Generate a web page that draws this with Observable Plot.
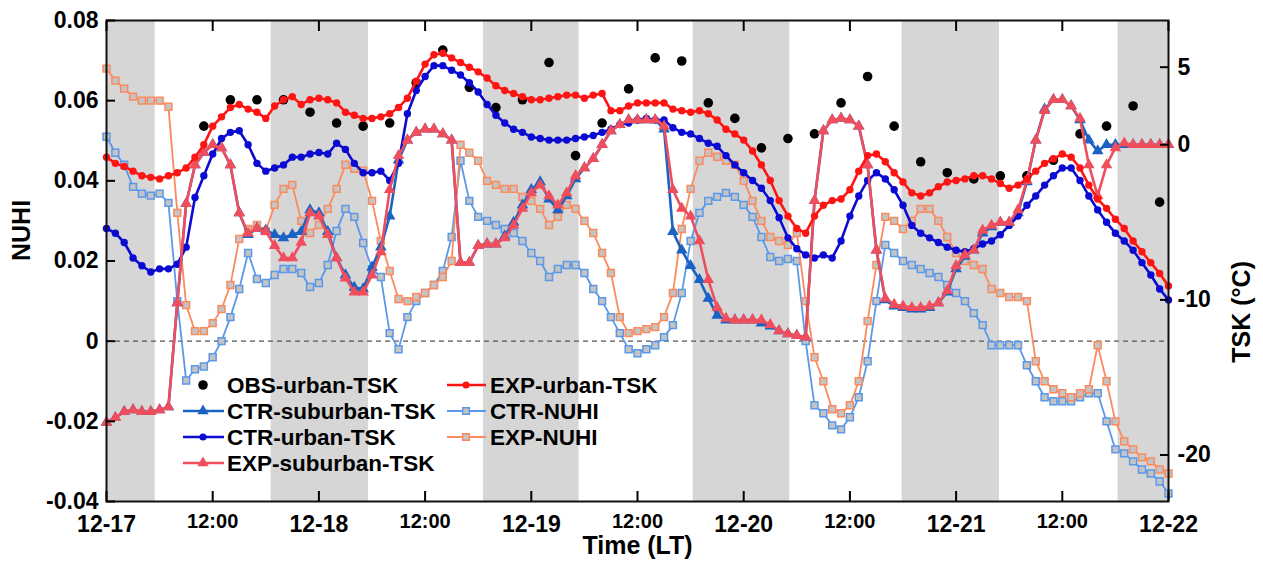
<!DOCTYPE html>
<html><head><meta charset="utf-8">
<script src="https://cdn.jsdelivr.net/npm/d3@7"></script>
<script src="https://cdn.jsdelivr.net/npm/@observablehq/plot@0.6"></script>
<style>
body{margin:0;background:#fff;}
#wrap{position:relative;width:1263px;height:568px;font-family:"Liberation Sans",Arial,sans-serif;}
#wrap svg{display:block;}
#legend{position:absolute;left:0;top:0;pointer-events:none;}
</style></head><body><div id="wrap"></div>
<script>
// ---------- data (hourly, 12-17 00:00 LT = hour 0) ----------
const hours = d3.range(0, 121);
const nightStart = [0, 18.6, 42.6, 66.3, 89.9, 114.3];
const nightEnd   = [5.5, 29.6, 53.4, 77.2, 100.9, 120];

const dayTicks = [0, 24, 48, 72, 96, 120];
const dayLabels = ["12-17", "12-18", "12-19", "12-20", "12-21", "12-22"];
const noonTicks = [12, 36, 60, 84, 108];
const noonLabel = "12:00";

const yTicks = [-0.04, -0.02, 0, 0.02, 0.04, 0.06, 0.08];
const yTickLabels = ["-0.04", "-0.02", "0", "0.02", "0.04", "0.06", "0.08"];
const tskTicks = [5, 0, -10, -20];
const tskTickLabels = ["5", "0", "-10", "-20"];

// TSK (°C)
const obsHours = [11,14,17,20,23,26,29,32,35,38,41,44,47,50,53,56,59,62,65,68,71,74,77,80,83,86,89,92,95,98,101,104,107,110,113,116,119];
const obsUrbanTSK = [1.2,2.9,2.9,2.9,2.1,1.4,1.2,1.4,4.0,6.1,3.7,2.4,2.9,5.3,-0.7,1.4,3.6,5.6,5.4,2.7,1.7,-0.2,0.4,0.7,2.7,4.4,1.2,-1.1,-1.8,-2.2,-2.0,-2.0,-1.0,0.7,1.2,2.5,-3.7];

const ctrSuburbanTSK = [
 -17.9,-17.6,-17.2,-17.1,-17.2,-17.2,-17.1,-16.9,-10.2,-3.8,
 -1.3,-0.5,0.0,-0.2,-1.3,-4.4,-5.8,-5.4,-5.5,-5.8,
 -6.0,-5.8,-5.6,-4.2,-4.4,-5.6,-7.3,-8.4,-9.2,-9.3,
 -7.9,-6.6,-4.6,-1.0,0.3,0.8,1.0,1.0,0.7,0.3,
 -7.6,-7.6,-6.5,-6.4,-6.4,-5.9,-5.0,-3.9,-2.9,-2.4,
 -3.5,-4.2,-3.3,-2.2,-1.5,-0.9,0.0,0.9,1.3,1.6,
 1.6,1.6,1.6,1.0,-5.6,-6.8,-7.8,-8.7,-9.9,-11.0,
 -11.3,-11.3,-11.3,-11.3,-11.5,-11.7,-12.0,-12.2,-12.3,-12.4,
 -3.6,0.9,1.6,1.7,1.6,1.2,-1.3,-6.8,-10.0,-10.4,
 -10.5,-10.6,-10.6,-10.5,-10.2,-9.5,-8.0,-7.2,-6.8,-5.7,
 -5.3,-5.0,-5.0,-4.4,-2.4,0.3,2.3,2.9,2.9,2.5,
 1.6,0.3,-0.4,0.0,0.0,0.0,0.0,0.0,0.0,0.0,0.0];

const expSuburbanTSK = [
 -17.9,-17.6,-17.2,-17.1,-17.2,-17.2,-17.1,-16.9,-10.2,-3.8,
 -1.3,-0.5,0.0,-0.2,-1.3,-4.4,-5.7,-5.4,-5.6,-6.5,
 -7.3,-7.3,-6.3,-4.4,-4.6,-5.8,-7.3,-8.6,-9.5,-9.5,
 -8.4,-6.9,-2.9,-0.7,0.3,0.8,1.0,1.0,0.7,0.3,
 -7.6,-7.6,-6.5,-6.4,-6.4,-6.0,-5.2,-4.1,-3.1,-2.6,
 -3.3,-3.9,-3.1,-2.0,-1.5,-0.9,0.0,0.9,1.3,1.6,
 1.6,1.6,1.6,1.2,-2.9,-4.1,-4.6,-6.2,-8.7,-10.5,
 -11.2,-11.3,-11.3,-11.3,-11.3,-11.6,-12.0,-12.2,-12.3,-12.4,
 -3.6,0.9,1.6,1.7,1.6,1.2,-1.3,-6.8,-9.9,-10.3,
 -10.4,-10.5,-10.5,-10.4,-10.2,-9.4,-7.8,-7.1,-6.8,-5.5,
 -5.2,-5.0,-5.0,-4.2,-2.3,0.3,2.2,2.9,2.9,2.5,
 1.7,-1.3,-3.3,-1.3,-0.2,0.1,0.0,0.0,0.0,0.0,0.0];

const ctrUrbanTSK = [
 -5.4,-5.7,-6.3,-7.3,-7.8,-8.2,-8.0,-8.0,-7.7,-6.6,
 -3.4,-2.0,-0.6,0.4,0.8,0.9,0.0,-1.2,-1.7,-1.5,
 -1.3,-0.8,-0.8,-0.6,-0.5,-0.6,0.1,-0.3,-1.2,-1.8,
 -1.8,-1.7,-2.3,-1.2,2.0,3.5,4.4,5.1,5.1,4.8,
 4.5,4.0,3.4,2.6,1.9,1.4,1.0,0.8,0.5,0.4,
 0.3,0.3,0.3,0.4,0.5,0.6,0.8,1.0,1.3,1.4,
 1.6,1.7,1.6,1.6,1.1,0.8,0.7,0.4,0.1,-0.1,
 -0.7,-1.3,-1.8,-2.3,-2.8,-3.6,-4.7,-6.0,-6.7,-7.1,
 -7.3,-7.1,-7.3,-6.2,-4.6,-3.3,-2.3,-1.8,-2.2,-2.9,
 -3.9,-5.2,-5.7,-6.0,-6.3,-6.6,-6.8,-6.9,-6.7,-6.4,
 -6.2,-5.8,-5.2,-4.6,-3.9,-3.3,-2.6,-2.0,-1.5,-1.5,
 -2.3,-3.3,-4.2,-5.0,-5.7,-6.2,-6.8,-7.6,-8.4,-9.3,-10.0];

const expUrbanTSK = [
 -0.8,-1.2,-1.4,-1.7,-2.0,-2.1,-2.2,-2.0,-1.8,-1.5,
 -0.8,0.0,1.2,1.8,2.4,2.6,2.3,2.1,1.7,2.5,
 2.9,3.1,2.6,2.9,3.0,2.9,2.7,2.1,1.9,1.7,
 1.7,1.8,2.0,2.4,3.0,4.1,5.2,5.8,5.9,5.6,
 5.3,5.0,4.7,4.3,3.8,3.5,3.3,3.1,2.9,2.9,
 3.0,3.1,3.2,3.2,3.0,3.2,3.3,2.2,2.2,2.5,
 2.7,2.7,2.7,2.7,2.3,2.2,2.1,2.2,2.0,1.6,
 1.0,0.7,0.3,-0.4,-1.3,-2.3,-3.6,-4.6,-5.4,-5.7,
 -4.6,-3.9,-3.6,-3.5,-2.9,-1.7,-0.7,-0.6,-1.1,-1.8,
 -2.4,-3.1,-3.3,-3.1,-2.7,-2.4,-2.3,-2.2,-2.0,-2.0,
 -2.2,-2.5,-2.8,-2.6,-2.2,-1.7,-1.2,-0.9,-0.6,-0.8,
 -1.5,-2.6,-3.5,-4.1,-4.8,-5.4,-6.2,-6.9,-7.6,-8.3,-9.1];

// NUHI
const ctrNUHI = [
 0.051,0.047,0.044,0.0385,0.0368,0.0363,0.0368,0.0345,0.010,-0.0098,
 -0.007,-0.0063,-0.004,0.000,0.006,0.013,0.022,0.0155,0.0145,0.0165,
 0.018,0.018,0.017,0.0135,0.0145,0.019,0.0275,0.033,0.031,0.0245,
 0.018,0.016,0.002,-0.002,0.006,0.010,0.012,0.014,0.0175,0.026,
 0.045,0.035,0.031,0.030,0.029,0.028,0.027,0.025,0.022,0.020,
 0.016,0.018,0.019,0.019,0.017,0.013,0.010,0.006,0.002,-0.002,
 -0.003,-0.002,-0.001,0.001,0.004,0.012,0.025,0.032,0.035,0.036,
 0.037,0.036,0.034,0.031,0.026,0.021,0.020,0.0205,0.020,0.000,
 -0.016,-0.018,-0.021,-0.022,-0.019,-0.014,-0.005,0.010,0.024,0.022,
 0.020,0.019,0.018,0.017,0.016,0.014,0.012,0.010,0.007,0.004,
 -0.001,-0.001,-0.001,-0.001,-0.006,-0.010,-0.014,-0.015,-0.015,-0.015,
 -0.014,-0.013,-0.013,-0.020,-0.027,-0.028,-0.030,-0.032,-0.033,-0.035,-0.038];

const expNUHI = [
 0.068,0.065,0.063,0.061,0.060,0.060,0.060,0.0585,0.032,0.009,
 0.0025,0.0025,0.0045,0.008,0.014,0.0255,0.028,0.029,0.0275,0.034,
 0.038,0.039,0.030,0.027,0.029,0.033,0.038,0.044,0.043,0.0425,
 0.035,0.025,0.0175,0.0105,0.010,0.011,0.012,0.014,0.016,0.020,
 0.049,0.047,0.045,0.040,0.039,0.038,0.038,0.036,0.035,0.033,
 0.029,0.031,0.034,0.033,0.030,0.027,0.022,0.017,0.006,0.002,
 0.0025,0.003,0.0035,0.006,0.012,0.028,0.038,0.045,0.047,0.046,
 0.045,0.044,0.040,0.035,0.030,0.026,0.025,0.024,0.027,0.010,
 -0.004,-0.010,-0.017,-0.018,-0.016,-0.010,0.005,0.019,0.031,0.030,
 0.028,0.030,0.033,0.033,0.030,0.026,0.022,0.020,0.019,0.018,
 0.013,0.012,0.011,0.011,0.010,-0.005,-0.010,-0.012,-0.013,-0.014,
 -0.013,-0.012,-0.001,-0.010,-0.020,-0.025,-0.027,-0.029,-0.030,-0.032,-0.033];

// ---------- secondary axis: TSK (°C) drawn on the NUHI scale ----------
const tskZero = 0.0490, tskPerDeg = 0.00387;
const tskToNuhi = t => tskZero + tskPerDeg * t;

const C = {
  ctrSub: "#1a62c4", ctrUrb: "#0a0ad2", expSub: "#f04e5c", expUrb: "#ff1414",
  ctrN: "#5b98e8", expN: "#fb8a5e", sqFill: "#c4c4c4", night: "#d6d6d6"
};

const series = [
  {name: "CTR-NUHI", vals: ctrNUHI, tsk: false, color: C.ctrN, symbol: "square", r: 3.9, sw: 1.8},
  {name: "EXP-NUHI", vals: expNUHI, tsk: false, color: C.expN, symbol: "square", r: 3.9, sw: 1.8},
  {name: "CTR-suburban-TSK", vals: ctrSuburbanTSK, tsk: true, color: C.ctrSub, symbol: "triangle", r: 4.3, sw: 2.6},
  {name: "CTR-urban-TSK", vals: ctrUrbanTSK, tsk: true, color: C.ctrUrb, symbol: "circle", r: 3.7, sw: 2.6},
  {name: "EXP-suburban-TSK", vals: expSuburbanTSK, tsk: true, color: C.expSub, symbol: "triangle", r: 4.3, sw: 2.6},
  {name: "EXP-urban-TSK", vals: expUrbanTSK, tsk: true, color: C.expUrb, symbol: "circle", r: 3.7, sw: 2.6}
];

const nights = nightStart.map((s, i) => ({s, e: nightEnd[i]}));
const obs = obsHours.map((h, i) => ({h, v: tskToNuhi(obsUrbanTSK[i])}));

const seriesMarks = [];
for (const s of series) {
  const data = hours.map((h, i) => ({h, v: s.tsk ? tskToNuhi(s.vals[i]) : s.vals[i]}));
  seriesMarks.push(Plot.line(data, {x: "h", y: "v", stroke: s.color, strokeWidth: s.sw, curve: "linear"}));
  if (s.symbol === "square") {
    seriesMarks.push(Plot.dot(data, {x: "h", y: "v", symbol: "square", r: s.r, fill: C.sqFill, stroke: s.color, strokeWidth: 1.5}));
  } else {
    seriesMarks.push(Plot.dot(data, {x: "h", y: "v", symbol: s.symbol, r: s.r, fill: s.color, stroke: "none"}));
  }
}

const allXTicks = [...dayTicks, ...noonTicks].sort((a, b) => a - b);
const tskTickPos = tskTicks.map(tskToNuhi);
const bold = {fontWeight: "bold"};

const plot = Plot.plot({
  width: 1263, height: 568,
  marginLeft: 106, marginRight: 95, marginTop: 20, marginBottom: 67,
  style: {fontFamily: '"Liberation Sans", Arial, sans-serif', color: "#000", background: "#fff", overflow: "visible"},
  x: {domain: [0, 120]},
  y: {domain: [-0.04, 0.08]},
  marks: [
    Plot.rect(nights, {x1: "s", x2: "e", fill: C.night}),
    Plot.ruleY([0], {stroke: "#555", strokeDasharray: "5,4", strokeWidth: 1.3}),
    Plot.dot(obs, {x: "h", y: "v", r: 4.8, fill: "#000"}),
    ...seriesMarks,
    Plot.frame({stroke: "#111", strokeWidth: 2}),
    // inward tick marks
    Plot.axisY({ticks: yTicks, anchor: "left", tickSize: 9, dx: 9, tickFormat: () => "", label: null, strokeWidth: 2}),
    Plot.axisY({ticks: tskTickPos, anchor: "right", tickSize: 9, dx: -9, tickFormat: () => "", label: null, strokeWidth: 2}),
    Plot.axisX({ticks: allXTicks, anchor: "bottom", tickSize: 10, dy: -10, tickFormat: () => "", label: null, strokeWidth: 2}),
    Plot.axisX({ticks: allXTicks, anchor: "top", tickSize: 10, dy: 10, tickFormat: () => "", label: null, strokeWidth: 2}),
    // tick labels
    Plot.axisY({ticks: yTicks, anchor: "left", tickSize: 0, tickPadding: 8, tickFormat: d => yTickLabels[yTicks.indexOf(d)], label: null, fontSize: 23, ...bold}),
    Plot.axisY({ticks: tskTickPos, anchor: "right", tickSize: 0, tickPadding: 9, tickFormat: d => tskTickLabels[tskTickPos.indexOf(d)], label: null, fontSize: 23, ...bold}),
    Plot.axisX({ticks: noonTicks, anchor: "bottom", tickSize: 0, tickPadding: 12, tickFormat: () => noonLabel, label: null, fontSize: 20, ...bold}),
    Plot.axisX({ticks: dayTicks, anchor: "bottom", tickSize: 0, tickPadding: 14, tickFormat: d => dayLabels[dayTicks.indexOf(d)], label: null, fontSize: 23, ...bold}),
    // axis titles
    Plot.text(["NUHI"], {text: d => d, frameAnchor: "left", dx: -85, rotate: -90, fontSize: 25, ...bold}),
    Plot.text(["TSK (°C)"], {text: d => d, frameAnchor: "right", dx: 73, rotate: -90, fontSize: 25, ...bold}),
    Plot.text(["Time (LT)"], {text: d => d, frameAnchor: "bottom", dy: 52, fontSize: 25, ...bold})
  ]
});

const wrap = document.getElementById("wrap");
wrap.appendChild(plot);

// ---------- legend (inside the frame) ----------
const legendItems = [
  {label: "OBS-urban-TSK", col: 0, row: 0, color: "#000", symbol: "obs"},
  {label: "CTR-suburban-TSK", col: 0, row: 1, color: C.ctrSub, symbol: "triangle"},
  {label: "CTR-urban-TSK", col: 0, row: 2, color: C.ctrUrb, symbol: "circle"},
  {label: "EXP-suburban-TSK", col: 0, row: 3, color: C.expSub, symbol: "triangle"},
  {label: "EXP-urban-TSK", col: 1, row: 0, color: C.expUrb, symbol: "circle"},
  {label: "CTR-NUHI", col: 1, row: 1, color: C.ctrN, symbol: "square"},
  {label: "EXP-NUHI", col: 1, row: 2, color: C.expN, symbol: "square"}
];
const colX = [{l0: 183, l1: 224, m: 203, t: 227}, {l0: 447, l1: 486, m: 466, t: 490}];
const rowY = [385, 411, 437, 463];

const lg = d3.create("svg").attr("id", "legend").attr("width", 1263).attr("height", 568);
for (const it of legendItems) {
  const c = colX[it.col], y = rowY[it.row];
  const g = lg.append("g");
  if (it.symbol === "obs") {
    g.append("circle").attr("cx", c.m).attr("cy", y).attr("r", 4.8).attr("fill", "#000");
  } else {
    g.append("line").attr("x1", c.l0).attr("x2", c.l1).attr("y1", y).attr("y2", y)
      .attr("stroke", it.color).attr("stroke-width", it.symbol === "square" ? 1.8 : 2.6);
    const sym = it.symbol === "triangle" ? d3.symbolTriangle : it.symbol === "square" ? d3.symbolSquare : d3.symbolCircle;
    const size = it.symbol === "triangle" ? 55 : it.symbol === "square" ? 44 : 40;
    g.append("path").attr("d", d3.symbol(sym, size)()).attr("transform", `translate(${c.m},${y})`)
      .attr("fill", it.symbol === "square" ? C.sqFill : it.color)
      .attr("stroke", it.symbol === "square" ? it.color : "none").attr("stroke-width", 1.5);
  }
  g.append("text").attr("x", c.t).attr("y", y).attr("dominant-baseline", "central")
    .attr("font-family", '"Liberation Sans", Arial, sans-serif').attr("font-weight", "bold")
    .attr("font-size", 22.5).attr("fill", "#000").text(it.label);
}
wrap.appendChild(lg.node());
</script></body></html>
